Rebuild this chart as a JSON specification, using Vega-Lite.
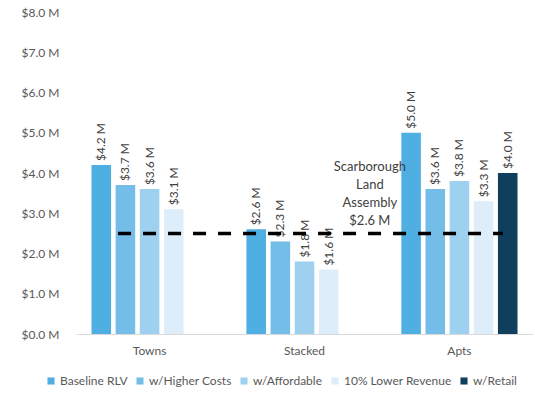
{
  "$schema": "https://vega.github.io/schema/vega-lite/v6.json",
  "width": 457,
  "height": 322,
  "autosize": {"type": "pad"},
  "padding": {"left": 21, "top": 6, "right": 0, "bottom": 4},
  "background": "white",
  "config": {
    "view": {"stroke": null},
    "font": "Lato",
    "axis": {"labelFont": "Lato", "labelColor": "#595959", "labelFontSize": 12},
    "legend": {"labelFont": "Lato", "labelColor": "#595959", "labelFontSize": 12}
  },
  "datasets": {
    "bars": [
      {"type": "Towns", "series": "Baseline RLV", "value": 4.2},
      {"type": "Towns", "series": "w/Higher Costs", "value": 3.7},
      {"type": "Towns", "series": "w/Affordable", "value": 3.6},
      {"type": "Towns", "series": "10% Lower Revenue", "value": 3.1},
      {"type": "Stacked", "series": "Baseline RLV", "value": 2.6},
      {"type": "Stacked", "series": "w/Higher Costs", "value": 2.3},
      {"type": "Stacked", "series": "w/Affordable", "value": 1.8},
      {"type": "Stacked", "series": "10% Lower Revenue", "value": 1.6},
      {"type": "Apts", "series": "Baseline RLV", "value": 5.0},
      {"type": "Apts", "series": "w/Higher Costs", "value": 3.6},
      {"type": "Apts", "series": "w/Affordable", "value": 3.8},
      {"type": "Apts", "series": "10% Lower Revenue", "value": 3.3},
      {"type": "Apts", "series": "w/Retail", "value": 4.0}
    ],
    "ref": [
      {"start": 0.092, "end": 0.934, "value": 2.5}
    ],
    "note": [
      {"pos": 0.643, "value": 4.3, "label": "Scarborough\nLand\nAssembly\n$2.6 M"}
    ]
  },
  "layer": [
    {
      "data": {"name": "bars"},
      "transform": [{"calculate": "'$' + format(datum.value, '.1f') + ' M'", "as": "label"}],
      "layer": [
        {
          "mark": {"type": "bar"},
          "encoding": {
            "x": {
              "field": "type", "type": "nominal", "sort": ["Towns", "Stacked", "Apts"],
              "scale": {"paddingInner": 0.25, "paddingOuter": 0.1},
              "axis": {"title": null, "labelAngle": 0, "ticks": false, "domainColor": "#d9d9d9", "domainWidth": 1, "labelPadding": 11}
            },
            "xOffset": {
              "field": "series", "type": "nominal",
              "sort": ["Baseline RLV", "w/Higher Costs", "w/Affordable", "10% Lower Revenue", "w/Retail"],
              "scale": {"domain": ["Baseline RLV", "w/Higher Costs", "w/Affordable", "10% Lower Revenue", "w/Retail"], "paddingInner": 0.19, "paddingOuter": 0}
            },
            "y": {
              "field": "value", "type": "quantitative",
              "scale": {"domain": [0, 8], "nice": false},
              "axis": {"title": null, "values": [0,1,2,3,4,5,6,7,8], "grid": false, "domain": false, "ticks": false, "labelPadding": 17,
                       "labelExpr": "'$' + format(datum.value, '.1f') + ' M'"}
            },
            "color": {
              "field": "series", "type": "nominal",
              "scale": {
                "domain": ["Baseline RLV", "w/Higher Costs", "w/Affordable", "10% Lower Revenue", "w/Retail"],
                "range": ["#4FAEE2", "#75BDE9", "#9DD1EF", "#DDEEFA", "#0F3F5C"]
              },
              "legend": {"title": null, "orient": "none", "legendX": -31, "legendY": 363, "direction": "horizontal", "symbolType": "square", "symbolSize": 50, "columnPadding": 6, "symbolOffset": 0, "labelOffset": 3}
            }
          }
        },
        {
          "mark": {"type": "text", "angle": -90, "align": "left", "baseline": "middle", "dx": 4, "fontSize": 12, "color": "#404040"},
          "encoding": {
            "x": {"field": "type", "type": "nominal", "sort": ["Towns", "Stacked", "Apts"]},
            "xOffset": {"field": "series", "type": "nominal"},
            "y": {"field": "value", "type": "quantitative"},
            "text": {"field": "label", "type": "nominal"},
            "detail": {"field": "series"}
          }
        }
      ]
    },
    {
      "data": {"name": "ref"},
      "mark": {"type": "rule", "strokeDash": [13, 12], "strokeWidth": 3.5, "color": "black"},
      "encoding": {
        "x": {"field": "start", "type": "quantitative", "scale": {"domain": [0, 1], "nice": false, "zero": false}, "axis": null},
        "x2": {"field": "end"},
        "y": {"field": "value", "type": "quantitative"}
      }
    },
    {
      "data": {"name": "note"},
      "mark": {"type": "text", "align": "center", "baseline": "top", "lineBreak": "\n", "lineHeight": 18, "fontSize": 13, "color": "#404040"},
      "encoding": {
        "x": {"field": "pos", "type": "quantitative", "scale": {"domain": [0, 1], "nice": false, "zero": false}, "axis": null},
        "y": {"field": "value", "type": "quantitative"},
        "text": {"field": "label"}
      }
    }
  ],
  "resolve": {"scale": {"x": "independent"}}
}
